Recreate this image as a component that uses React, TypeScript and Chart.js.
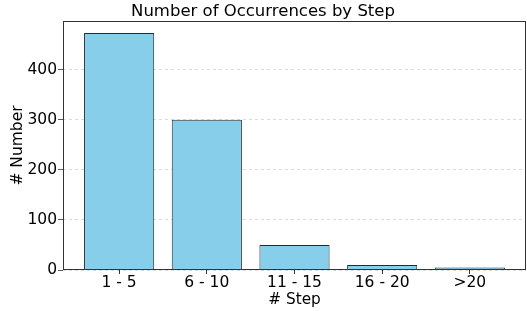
import React, { useEffect, useRef } from "react";
import { Chart, registerables } from "chart.js";

Chart.register(...registerables);

const categories = ["1 - 5", "6 - 10", "11 - 15", "16 - 20", ">20"];
const counts = [473, 300, 50, 10, 5];
const yTicks = [0, 100, 200, 300, 400];

const FONT = "'DejaVu Sans', sans-serif";

const frame = {
  id: "frame",
  afterDraw(chart: any) {
    const { ctx, chartArea } = chart;
    ctx.save();
    ctx.strokeStyle = "#333333";
    ctx.lineWidth = 1;
    ctx.strokeRect(
      Math.round(chartArea.left) + 0.5,
      Math.round(chartArea.top) + 0.5,
      Math.round(chartArea.right - chartArea.left) - 1,
      Math.round(chartArea.bottom - chartArea.top) - 1
    );
    ctx.restore();
  },
};

export default function App() {
  const ref = useRef<HTMLCanvasElement>(null);
  useEffect(() => {
    document.body.style.margin = "0";
    const chart = new Chart(ref.current!, {
      type: "bar",
      data: {
        datasets: [
          {
            data: counts.map((v, i) => ({ x: i, y: v })),
            backgroundColor: "#87CEEB",
            borderColor: "#1f2b30",
            borderWidth: 1,
            barPercentage: 0.8,
            categoryPercentage: 1,
          },
        ],
      },
      options: {
        animation: false,
        responsive: false,
        maintainAspectRatio: false,
        layout: { padding: { left: 0, right: 1, top: 0, bottom: 0 } },
        plugins: {
          legend: { display: false },
          tooltip: { enabled: false },
          title: {
            display: true,
            text: "Number of Occurrences by Step",
            color: "#000",
            font: { family: FONT, size: 16.5, weight: "normal", lineHeight: 1.15 },
            padding: { top: 2, bottom: 0 },
          },
        },
        scales: {
          x: {
            type: "linear",
            offset: false,
            min: -0.64,
            max: 4.64,
            afterBuildTicks: (scale: any) => {
              scale.ticks = categories.map((_, i) => ({ value: i }));
            },
            afterFit: (scale: any) => {
              scale.height = 41;
            },
            ticks: {
              color: "#000",
              font: { family: FONT, size: 15.5 },
              padding: 0,
              maxRotation: 0,
              autoSkip: false,
              callback: (v: any) => categories[Math.round(v)] ?? "",
            },
            grid: {
              display: true,
              offset: false,
              drawOnChartArea: false,
              drawTicks: true,
              tickLength: 4,
              tickColor: "#333",
            },
            border: { display: false },
            title: {
              display: true,
              text: "# Step",
              color: "#000",
              font: { family: FONT, size: 15.3 },
              padding: { top: 0, bottom: 2 },
            },
          },
          y: {
            type: "linear",
            min: 0,
            max: 497,
            afterBuildTicks: (scale: any) => {
              scale.ticks = yTicks.map((v) => ({ value: v }));
            },
            afterFit: (scale: any) => {
              scale.width = 63;
            },
            ticks: {
              color: "#000",
              font: { family: FONT, size: 15.5 },
              padding: 1,
            },
            grid: {
              color: "rgba(0,0,0,0.18)",
              tickBorderDash: [],
              tickColor: "#333",
              tickLength: 5,
              lineWidth: 0.8,
            } as any,
            border: { display: false, dash: [3, 3] },
            title: {
              display: true,
              text: "# Number",
              color: "#000",
              font: { family: FONT, size: 15.5 },
              padding: { top: 9, bottom: 0 },
            },
          },
        },
      },
      plugins: [frame],
    } as any);
    return () => chart.destroy();
  }, []);
  return <canvas ref={ref} width={527} height={311} style={{ display: "block" }} />;
}
